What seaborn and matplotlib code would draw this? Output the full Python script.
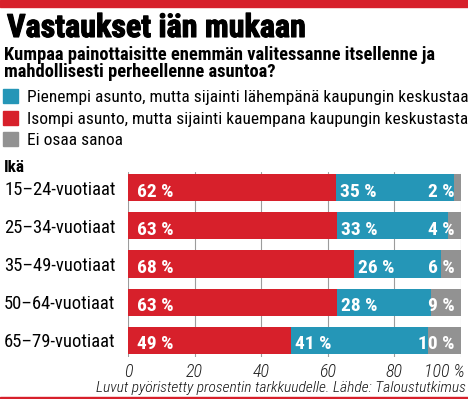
import numpy as np
import pandas as pd
import matplotlib
matplotlib.use("Agg")
import matplotlib.pyplot as plt
import seaborn as sns
from matplotlib import font_manager
from matplotlib import patheffects
from matplotlib.patches import Rectangle
from matplotlib.transforms import offset_copy

# data
ages = ["15–24-vuotiaat", "25–34-vuotiaat", "35–49-vuotiaat", "50–64-vuotiaat", "65–79-vuotiaat"]
# bar lengths (unrounded, measured from the bars)
isompi_len = [62.5, 62.9, 68.0, 62.9, 48.9]
pienempi_len = [35.4, 33.1, 25.9, 28.1, 41.1]
eos_len = [2.1, 4.0, 6.1, 9.0, 10.0]
# printed labels
isompi_lbl = ["62 %", "63 %", "68 %", "63 %", "49 %"]
pienempi_lbl = ["35 %", "33 %", "26 %", "28 %", "41 %"]
eos_lbl = ["2 %", "4 %", "6 %", "9 %", "10 %"]
ticks = [0, 20, 40, 60, 80, 100]
tick_labels = ["0", "20", "40", "60", "80", "100 %"]
legend_labels = ["Pienempi asunto, mutta sijainti lähempänä kaupungin keskustaa",
                 "Isompi asunto, mutta sijainti kauempana kaupungin keskustasta",
                 "Ei osaa sanoa"]

RED = "#d7202b"
BLUE = "#2596b7"
GRAY = "#929292"

sns.set_theme(style="white")
names = {f.name for f in font_manager.fontManager.ttflist}
FONT = next((n for n in ["Roboto Condensed", "Liberation Sans Narrow"] if n in names), "Roboto")
plt.rcParams["font.family"] = [FONT, "DejaVu Sans"]

W, H = 468, 399
fig = plt.figure(figsize=(W / 100, H / 100), dpi=100)
fig.patch.set_facecolor("white")
r = fig.canvas.get_renderer()


def fx(px):
    return px / W


def fy(py):
    return 1 - py / H


def fit(t, width_px):
    w = t.get_window_extent(r).width
    t.set_fontsize(t.get_fontsize() * width_px / w)
    return t.get_fontsize()


# red band on top and thin line at the bottom
fig.patches.append(Rectangle((0, fy(7)), 1, 7 / H, transform=fig.transFigure, color=RED, zorder=5))
fig.patches.append(Rectangle((0, 0), 1, 2 / H, transform=fig.transFigure, color=RED, zorder=5))

title = fig.text(fx(7), fy(37), "Vastaukset iän mukaan", fontsize=24, fontweight="black",
                 va="baseline", ha="left", color="black")
fit(title, 300)
title.set_path_effects([patheffects.withStroke(linewidth=0.8, foreground="black")])

s1 = fig.text(fx(4), fy(60), "Kumpaa painottaisitte enemmän valitessanne itsellenne ja",
              fontsize=13, fontweight="bold", va="baseline", color="black")
fs = fit(s1, 432)
fig.text(fx(4), fy(77), "mahdollisesti perheellenne asuntoa?", fontsize=fs,
         fontweight="bold", va="baseline", color="black")

leg_cols = [BLUE, RED, GRAY]
leg_base = [102, 124, 145]
leg_fs = None
for lab, col, b in zip(legend_labels, leg_cols, leg_base):
    fig.patches.append(Rectangle((fx(3), fy(b + 1)), 15 / W, 14 / H,
                                 transform=fig.transFigure, color=col))
    t = fig.text(fx(27), fy(b), lab, fontsize=13, va="baseline", color="black")
    if leg_fs is None:
        leg_fs = fit(t, 438)
    else:
        t.set_fontsize(leg_fs)

ika = fig.text(fx(4), fy(172), "Ikä", fontsize=12, fontweight="bold", va="baseline", color="black")
fit(ika, 21)

# bars
h = 0.71
top_px, bot_px = 171.7, 357
ax = fig.add_axes([fx(128), fy(bot_px), 333 / W, (bot_px - top_px) / H])

df = pd.DataFrame({"ika": ages, "isompi": isompi_len, "pienempi": pienempi_len, "eos": eos_len})
df["kaksi"] = df["isompi"] + df["pienempi"]
df["kaikki"] = df["kaksi"] + df["eos"]

for col, c in [("kaikki", GRAY), ("kaksi", BLUE), ("isompi", RED)]:
    sns.barplot(data=df, x=col, y="ika", color=c, saturation=1, width=h, errorbar=None,
                linewidth=0, edgecolor="none", ax=ax)

ax.set_xlim(0, 100)
ax.set_ylim(4 + h / 2 + 0.08, -h / 2 - 0.06)
ax.set_xlabel("")
ax.set_ylabel("")
ax.set_xticks(ticks)
ax.set_xticklabels(tick_labels)
ax.grid(axis="x", color="#9c9c9c", linewidth=0.8)
ax.grid(axis="y", visible=False)
ax.set_axisbelow(True)
sns.despine(ax=ax, left=True, bottom=True)
ax.set_facecolor("none")

ax.tick_params(axis="x", length=0, pad=4.5, labelsize=13, labelcolor="#222222")
for lbl in ax.get_xticklabels():
    lbl.set_fontstyle("italic")
    lbl.set_fontweight("light")
last = ax.get_xticklabels()[-1]
last.set_horizontalalignment("right")
last.set_transform(offset_copy(last.get_transform(), fig=fig, x=4, y=0, units="dots"))

ax.tick_params(axis="y", length=0, pad=(128 - 4) * 72 / 100, labelsize=12, labelcolor="black")
ylbls = ax.get_yticklabels()
for lbl in ylbls:
    lbl.set_horizontalalignment("left")
cat_fs = fit(ylbls[0], 111)
for lbl in ylbls:
    lbl.set_fontsize(cat_fs)

# value labels
for i in range(len(ages)):
    kw = dict(textcoords="offset pixels", va="center_baseline", color="white",
              fontweight="bold", fontsize=14)
    ax.annotate(isompi_lbl[i], (0, i), xytext=(9, -2), ha="left", **kw)
    ax.annotate(pienempi_lbl[i], (df["isompi"][i], i), xytext=(4, -2), ha="left", **kw)
    ax.annotate(eos_lbl[i], (df["kaikki"][i], i), xytext=(-6, -2), ha="right", **kw)

foot = fig.text(fx(466), fy(392), "Luvut pyöristetty prosentin tarkkuudelle. Lähde: Taloustutkimus",
                fontsize=11, fontstyle="italic", fontweight="light", ha="right", va="baseline",
                color="#111111")
fit(foot, 368)

fig.savefig("out.png", dpi=100)
